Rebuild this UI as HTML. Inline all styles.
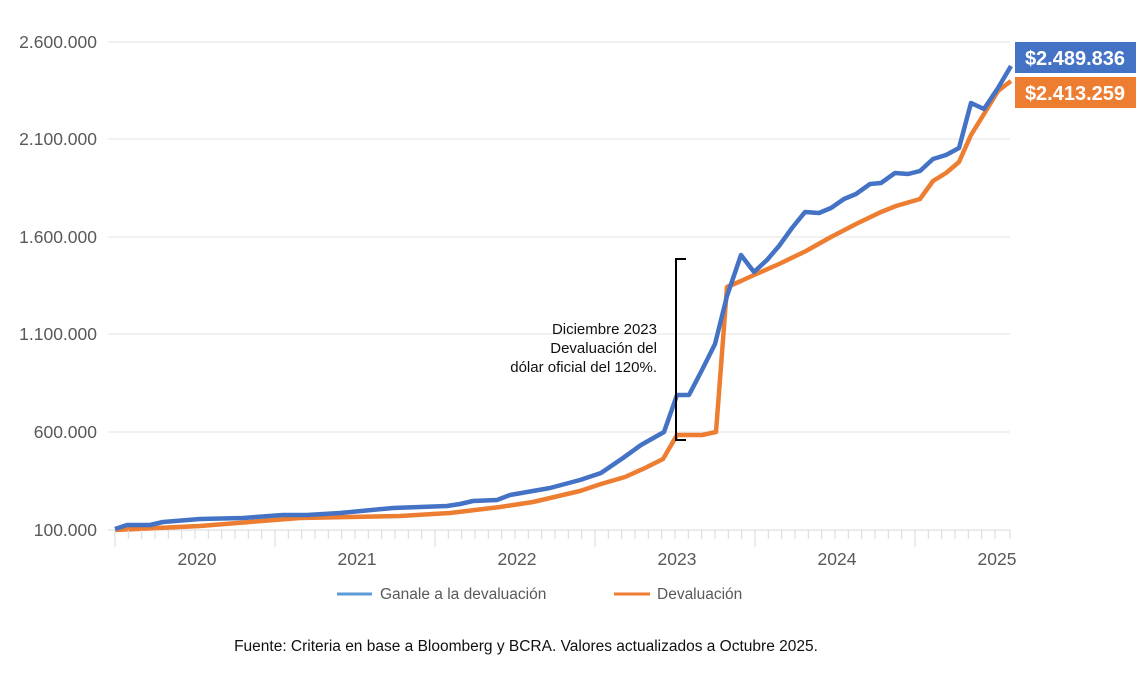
<!DOCTYPE html>
<html><head><meta charset="utf-8"><style>
body{margin:0;background:#fff;}
svg{display:block;font-family:"Liberation Sans",sans-serif;}
</style></head><body>
<svg width="1142" height="683" viewBox="0 0 1142 683">
<g stroke="#e3e3e3" stroke-width="1">
<line x1="108" y1="42" x2="1010" y2="42"/>
<line x1="108" y1="139" x2="1010" y2="139"/>
<line x1="108" y1="237" x2="1010" y2="237"/>
<line x1="108" y1="334" x2="1010" y2="334"/>
<line x1="108" y1="432" x2="1010" y2="432"/>
<line x1="108" y1="530" x2="1010" y2="530" stroke="#d9d9d9"/>
</g>
<g fill="#595959" font-size="17.5" text-anchor="end">
<text x="97" y="48">2.600.000</text>
<text x="97" y="145">2.100.000</text>
<text x="97" y="243">1.600.000</text>
<text x="97" y="340">1.100.000</text>
<text x="97" y="438">600.000</text>
<text x="97" y="536">100.000</text>
</g>
<g fill="#595959" font-size="17.5" text-anchor="middle">
<text x="197" y="565">2020</text>
<text x="357" y="565">2021</text>
<text x="517" y="565">2022</text>
<text x="677" y="565">2023</text>
<text x="837" y="565">2024</text>
<text x="997" y="565">2025</text>
</g>
<polyline fill="none" stroke="#ED7D31" stroke-width="4.5" stroke-linejoin="round" points="115,530 200,526 250,522 300,518 400,516 450,513 500,507 533,502 580,491 601,484 625,477 645,468 663,459 677,435 689,435 702,435 716,432 727,287 741,281 754,275 779,264 806,251 831,237 856,224 881,212 896,206 920,199 933,181 946,173 959,162 971,135 984,114 998,91 1011,81"/>
<polyline fill="none" stroke="#4472C4" stroke-width="4.5" stroke-linejoin="round" points="115,529 127,525 150,525 163,522 200,519 243,518 283,515 307,515 340,513 393,508 447,506 460,504 473,501 497,500 510,495 550,488 580,480 601,473 623,458 641,445 664,432 677,395 689,395 702,370 715,344 727,296 741,255 754,272 767,260 779,246 792,228 805,212 819,213 831,208 844,199 856,194 870,184 881,183 895,173 908,174 920,171 933,159 946,155 959,148 971,103 984,109 998,88 1011,66"/>
<polyline points="686,259 676,259 676,440 686,440" stroke="#000" stroke-width="2" fill="none"/>
<g font-size="15" fill="#111" text-anchor="end">
<text x="657" y="334">Diciembre 2023</text>
<text x="657" y="353">Devaluación del</text>
<text x="657" y="372">dólar oficial del 120%.</text>
</g>
<rect x="1015" y="42" width="121" height="31" fill="#4472C4"/>
<rect x="1015" y="77" width="121" height="31" fill="#ED7D31"/>
<g font-size="20" font-weight="bold" fill="#fff" text-anchor="middle">
<text x="1075" y="65">$2.489.836</text>
<text x="1075" y="100">$2.413.259</text>
</g>
<line x1="337" y1="594" x2="372" y2="594" stroke="#5B9BD5" stroke-width="3"/>
<text x="380" y="599" font-size="15.5" fill="#595959">Ganale a la devaluación</text>
<line x1="614" y1="594" x2="650" y2="594" stroke="#ED7D31" stroke-width="3"/>
<text x="657" y="599" font-size="15.5" fill="#595959">Devaluación</text>
<text x="526" y="651" font-size="15.5" fill="#111" text-anchor="middle">Fuente: Criteria en base a Bloomberg y BCRA. Valores actualizados a Octubre 2025.</text>
<g stroke="#d9d9d9" stroke-width="1">
<line x1="115" y1="530" x2="115" y2="547"/><line x1="275" y1="530" x2="275" y2="547"/><line x1="435" y1="530" x2="435" y2="547"/><line x1="595" y1="530" x2="595" y2="547"/><line x1="755" y1="530" x2="755" y2="547"/><line x1="915" y1="530" x2="915" y2="547"/><line x1="1010" y1="530" x2="1010" y2="539"/>
<path d="M128.3 530v9M141.7 530v9M155 530v9M168.3 530v9M181.7 530v9M195 530v9M208.3 530v9M221.7 530v9M235 530v9M248.3 530v9M261.7 530v9M288.3 530v9M301.7 530v9M315 530v9M328.3 530v9M341.7 530v9M355 530v9M368.3 530v9M381.7 530v9M395 530v9M408.3 530v9M421.7 530v9M448.3 530v9M461.7 530v9M475 530v9M488.3 530v9M501.7 530v9M515 530v9M528.3 530v9M541.7 530v9M555 530v9M568.3 530v9M581.7 530v9M608.3 530v9M621.7 530v9M635 530v9M648.3 530v9M661.7 530v9M675 530v9M688.3 530v9M701.7 530v9M715 530v9M728.3 530v9M741.7 530v9M768.3 530v9M781.7 530v9M795 530v9M808.3 530v9M821.7 530v9M835 530v9M848.3 530v9M861.7 530v9M875 530v9M888.3 530v9M901.7 530v9M928.3 530v9M941.7 530v9M955 530v9M968.3 530v9M981.7 530v9M995 530v9"/>
</g>
</svg>
</body></html>
